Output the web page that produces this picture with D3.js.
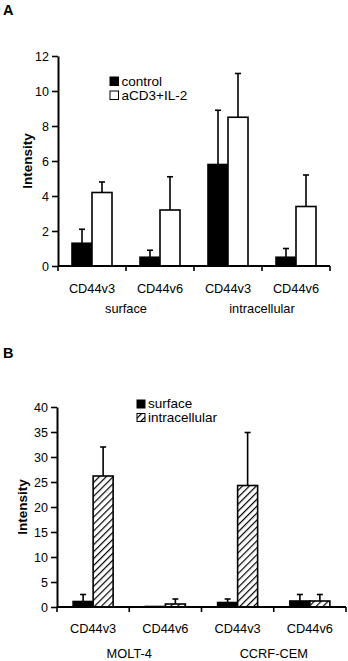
<!DOCTYPE html>
<html><head><meta charset="utf-8">
<script src="https://cdn.jsdelivr.net/npm/d3@7"></script>
<style>
html,body{margin:0;padding:0;background:#fff;}
svg{display:block;font-family:"Liberation Sans",Arial,sans-serif;}
</style></head>
<body>
<svg id="c" width="348" height="661"></svg>
<script>
// ---------- Panel A data ----------
const catsA = ["CD44v3", "CD44v6", "CD44v3 ", "CD44v6 "];
const catLabelsA = ["CD44v3", "CD44v6", "CD44v3", "CD44v6"];
const groupLabelsA = ["surface", "intracellular"];
const seriesA = ["control", "aCD3+IL-2"];
const controlA = [1.3, 0.5, 5.8, 0.5];
const controlErrA = [0.8, 0.4, 3.1, 0.5];
const stimA = [4.2, 3.2, 8.5, 3.4];
const stimErrA = [0.6, 1.9, 2.5, 1.8];
const ticksA = [0, 2, 4, 6, 8, 10, 12];

// ---------- Panel B data ----------
const catsB = ["CD44v3", "CD44v6", "CD44v3 ", "CD44v6 "];
const catLabelsB = ["CD44v3", "CD44v6", "CD44v3", "CD44v6"];
const groupLabelsB = ["MOLT-4", "CCRF-CEM"];
const seriesB = ["surface", "intracellular"];
const surfaceB = [1.1, 0.1, 0.9, 1.2];
const surfaceErrB = [1.4, 0, 0.7, 1.3];
const intraB = [26.2, 0.6, 24.3, 1.2];
const intraErrB = [5.8, 1.0, 10.6, 1.3];
const ticksB = [0, 5, 10, 15, 20, 25, 30, 35, 40];

const svg = d3.select("#c");
const defs = svg.append("defs");
const pat = defs.append("pattern").attr("id", "hatch")
  .attr("patternUnits", "userSpaceOnUse").attr("width", 4.9).attr("height", 4.9)
  .attr("patternTransform", "rotate(45)");
pat.append("rect").attr("width", 4.9).attr("height", 4.9).attr("fill", "#fff");
pat.append("line").attr("x1", 0).attr("y1", 0).attr("x2", 0).attr("y2", 4.9)
  .attr("stroke", "#000").attr("stroke-width", 2.4);

function panel(opt) {
  const g = svg.append("g");
  const x = d3.scaleBand().domain(opt.cats).range([opt.x0, opt.x1]).padding(0);
  const y = d3.scaleLinear().domain([0, opt.ymax]).range([opt.yb, opt.yt]);
  const bw = 20;
  const xs = d3.scaleBand().domain(opt.series).range([x.bandwidth() / 2 - bw, x.bandwidth() / 2 + bw]);

  // panel letter
  svg.append("text").attr("x", 3).attr("y", opt.letterY).attr("font-weight", "bold")
    .attr("font-size", 14.5).text(opt.letter);

  // y axis
  const ya = d3.axisLeft(y).tickValues(opt.ticks).tickSize(6).tickPadding(3).tickSizeOuter(0);
  const yg = g.append("g").attr("transform", `translate(${opt.x0},0)`).call(ya);
  yg.select(".domain").attr("stroke-width", 2);
  yg.selectAll(".tick line").attr("stroke-width", 1.6);
  yg.selectAll("text").attr("font-size", 12.5).attr("font-family", "Liberation Sans, Arial, sans-serif").attr("fill", "#000");

  g.append("text").attr("transform", `translate(${opt.labX},${(opt.yb + opt.yt) / 2}) rotate(-90)`)
    .attr("text-anchor", "middle").attr("font-weight", "bold").attr("font-size", 13.5).text("Intensity");

  // bars
  opt.cats.forEach((c, i) => {
    opt.vals.forEach((arr, s) => {
      const bx = x(c) + xs(opt.series[s]);
      const v = arr[i], e = opt.errs[s][i];
      const cx = bx + xs.bandwidth() / 2;
      if (e > 0) {
        g.append("line").attr("x1", cx).attr("x2", cx).attr("y1", y(v)).attr("y2", y(v + e))
          .attr("stroke", "#000").attr("stroke-width", 1.6);
        g.append("line").attr("x1", cx - 3).attr("x2", cx + 3).attr("y1", y(v + e)).attr("y2", y(v + e))
          .attr("stroke", "#000").attr("stroke-width", 1.6);
      }
      g.append("rect").attr("x", bx).attr("y", y(v)).attr("width", xs.bandwidth())
        .attr("height", y(0) - y(v)).attr("fill", opt.fills[s])
        .attr("stroke", "#000").attr("stroke-width", 1.6);
    });
  });

  // x axis
  g.append("line").attr("x1", opt.x0).attr("x2", opt.x1).attr("y1", y(0)).attr("y2", y(0))
    .attr("stroke", "#000").attr("stroke-width", 2);
  const bounds = opt.cats.map(c => x(c)).concat([opt.x1]);
  bounds.forEach(b => {
    g.append("line").attr("x1", b).attr("x2", b).attr("y1", y(0)).attr("y2", y(0) + 5)
      .attr("stroke", "#000").attr("stroke-width", 1.6);
  });
  opt.cats.forEach((c, i) => {
    g.append("text").attr("x", x(c) + x.bandwidth() / 2).attr("y", opt.catY)
      .attr("text-anchor", "middle").attr("font-size", 12.8).text(opt.catLabels[i]);
  });
  opt.groupLabels.forEach((t, k) => {
    g.append("text").attr("x", x(opt.cats[2 * k + 1])).attr("y", opt.grpY)
      .attr("text-anchor", "middle").attr("font-size", 12.8).text(t);
  });

  // legend
  opt.series.forEach((s, k) => {
    const ly = opt.legY + k * opt.legStep;
    g.append("rect").attr("x", opt.legX).attr("y", ly - opt.sq).attr("width", opt.sq).attr("height", opt.sq)
      .attr("fill", opt.fills[k]).attr("stroke", "#000").attr("stroke-width", 1);
    g.append("text").attr("x", opt.legX + opt.sq + 3).attr("y", ly).attr("font-size", 13.5).text(s);
  });
}

panel({
  letter: "A", letterY: 15,
  cats: catsA, catLabels: catLabelsA, groupLabels: groupLabelsA, series: seriesA,
  vals: [controlA, stimA], errs: [controlErrA, stimErrA], fills: ["#000", "#fff"],
  ticks: ticksA, ymax: 12, x0: 58, x1: 330, yb: 266, yt: 56, labX: 32,
  catY: 293, grpY: 313, legX: 110, legY: 85.5, legStep: 14, sq: 8.5
});
panel({
  letter: "B", letterY: 358,
  cats: catsB, catLabels: catLabelsB, groupLabels: groupLabelsB, series: seriesB,
  vals: [surfaceB, intraB], errs: [surfaceErrB, intraErrB], fills: ["#000", "url(#hatch)"],
  ticks: ticksB, ymax: 40, x0: 57, x1: 346, yb: 607, yt: 407, labX: 27,
  catY: 633, grpY: 658, legX: 137, legY: 408, legStep: 13.5, sq: 8
});
</script>
</body></html>
